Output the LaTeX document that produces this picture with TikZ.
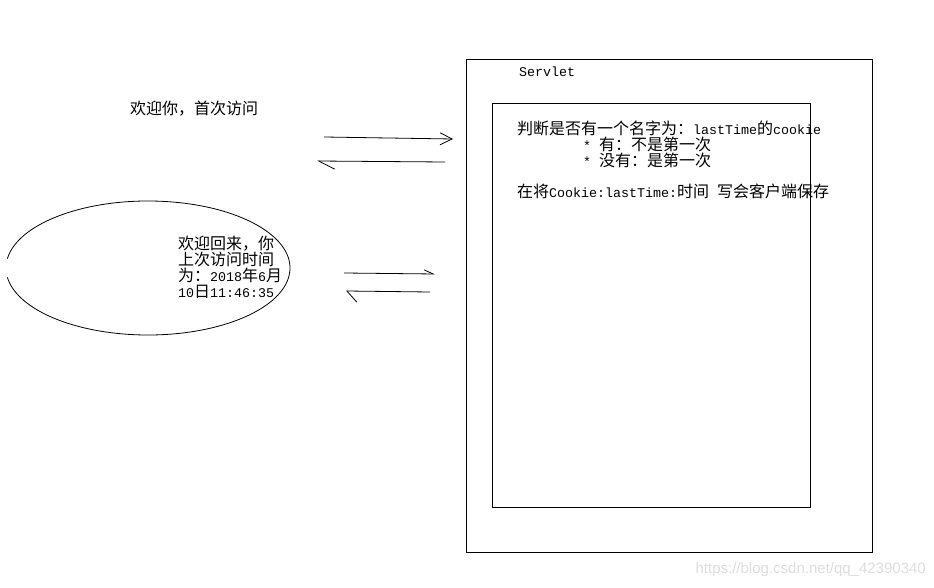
\documentclass[tikz,border=0pt]{standalone}
\usepackage{fontspec}
\usetikzlibrary{arrows.meta}
\newfontfamily\cjk{Noto Sans CJK SC}
\newfontfamily\enfont[Scale=0.833]{Liberation Mono}
\newfontfamily\wm{Liberation Sans}
\newcommand\en[1]{{\enfont #1}}

\begin{document}
\begin{tikzpicture}[x=1pt, y=-1pt,
    txt/.style={inner sep=0, align=left, font=\cjk\fontsize{16}{15.8}\selectfont},
    box/.style={draw, line width=0.8pt},
    flow/.style={line width=0.8pt}]
  \useasboundingbox[fill=white] (0,0) rectangle (934,588);
  \draw[box] (466,59) rectangle (872,552);
  \draw[box] (492,103) rectangle (810,507);
  \node[txt, anchor=base west] (servlet) at (519,77) {\en{Servlet}};
  \node[txt, anchor=north west] (check) at (517,121)
    {判断是否有一个名字为：\en{lastTime}的\en{cookie}\\
     \hspace*{66pt}\en{* }有：不是第一次\\
     \hspace*{66pt}\en{* }没有：是第一次\\[15.8pt]
     在将\en{Cookie:lastTime:}时间\en{ }写会客户端保存};
  \node[txt, anchor=north west] (first) at (130,101) {欢迎你，首次访问};
  \draw[flow] (148,268) ++(188:142 and 67) arc[start angle=188, end angle=532, x radius=142, y radius=67];
  \node[txt, anchor=north west] (again) at (178,236)
    {欢迎回来，你\\上次访问时间\\为：\en{2018}年\en{6}月\\\en{10}日\en{11:46:35}};
  \coordinate (req1s) at (324,137);
  \coordinate (req1e) at (453,139);
  \coordinate (res1s) at (445,162);
  \coordinate (res1e) at (317,161);
  \coordinate (req2s) at (344,273);
  \coordinate (req2e) at (435,274);
  \coordinate (res2s) at (430,292);
  \coordinate (res2e) at (346,291);
  \draw[flow, -{Straight Barb[length=12pt, width=12pt]}] (req1s) -- (req1e);
  \draw[flow, -{Straight Barb[harpoon, length=16pt, width=16pt]}] (res1s) -- (res1e);
  \draw[flow, -{Straight Barb[harpoon, length=9pt, width=8pt]}] (req2s) -- (req2e);
  \draw[flow, -{Straight Barb[harpoon, length=10pt, width=22pt]}] (res2s) -- (res2e);
  \node[inner sep=0, anchor=east, text=black!13, font=\wm\fontsize{15}{15}\selectfont] (mark) at (926,570) {https://blog.csdn.net/qq\_42390340};
\end{tikzpicture}
\end{document}
